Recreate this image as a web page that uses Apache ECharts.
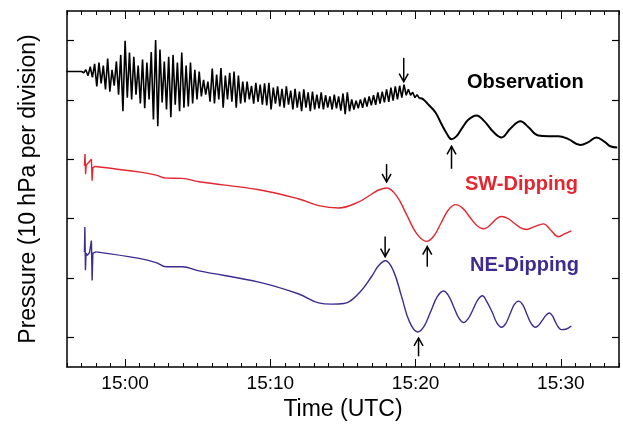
<!DOCTYPE html>
<html><head><meta charset="utf-8">
<script src="https://cdn.jsdelivr.net/npm/echarts@6/dist/echarts.min.js"></script>
<style>html,body{margin:0;padding:0;background:#fff}#c{width:623px;height:426px}</style>
</head><body><div id="c"></div>
<script>
const FONT = '"Liberation Sans", Arial, Helvetica, sans-serif';
// x in minutes after 15:00 UTC; y in hPa (10 hPa per division)
const xTickLabels = {0: '15:00', 10: '15:10', 20: '15:20', 30: '15:30'};
const xMajorTicks = [0, 10, 20, 30];
const yTicks = [5, 15, 25, 35, 45, 55];

const obsFlat = [[-4.05, 49.8], [-3.0, 49.8]];
const obsNoiseStart = -3.0;
const obsNoiseStep = 0.15;
const obsNoise = [
  49.8, 49.6, 50.1, 49.1, 50.6, 48.8, 51.1, 47.3, 51.3, 47.8,
  50.8, 46.8, 52.0, 46.4, 50.1, 47.4, 51.5, 45.9, 52.6, 43.1,
  55.0, 45.4, 53.0, 45.1, 52.3, 45.9, 50.8, 44.4, 51.8, 43.6,
  51.3, 45.1, 53.1, 41.7, 55.1, 40.6, 53.5, 44.6, 51.5, 43.4,
  52.3, 42.1, 52.6, 44.2, 51.3, 43.1, 53.0, 43.7, 50.8, 43.9,
  51.3, 44.4, 50.1, 45.1, 49.8, 45.6, 48.4, 45.9, 48.1, 44.7,
  50.3, 44.4, 49.3, 45.1, 50.4, 43.7, 49.1, 45.1, 49.6, 44.7,
  49.8, 43.7, 49.1, 44.4, 48.1, 44.6, 48.1, 45.1, 47.4, 44.4,
  47.9, 44.7, 47.6, 44.2, 47.8, 44.1, 47.9, 43.4, 47.1, 44.4,
  47.3, 43.9, 46.9, 43.7, 47.3, 44.2, 46.6, 43.4, 46.9, 43.7,
  46.4, 43.1, 46.8, 43.7, 46.3, 43.1, 46.4, 43.4, 45.9, 43.6,
  46.3, 43.4, 45.8, 43.7, 45.6, 43.4, 45.9, 43.6, 45.6, 43.2,
  46.1, 42.6, 46.3, 43.1, 45.1, 43.4, 44.9, 43.6, 45.1, 43.7,
  45.4, 43.9, 45.6, 44.1, 45.8, 44.2, 46.3, 44.4, 46.4, 44.6,
  46.8, 44.7, 47.1, 44.9, 47.3, 45.1, 47.4, 45.4, 47.6, 45.8,
  46.8, 45.8, 46.3, 45.4, 45.9, 45.3
];
const obsTail = [
  [20.25, 45.3], [20.34, 45.3], [20.89, 44.2], [21.37, 42.9], [21.79, 40.9], [22.13, 39.4],
  [22.47, 38.4], [22.82, 38.9], [23.23, 40.4], [23.64, 41.7], [24.19, 42.4],
  [24.74, 41.4], [25.36, 39.6], [25.91, 38.7], [26.53, 40.2], [27.22, 41.4],
  [27.77, 40.4], [28.45, 39.0], [29.14, 38.9], [29.83, 38.9], [30.52, 38.4],
  [31.34, 37.4], [31.89, 37.9], [32.44, 38.7], [32.99, 38.0], [33.40, 37.2], [33.88, 37.0]
];

const swSpikes = [
  [-2.80, 33.9], [-2.76, 35.9], [-2.72, 32.5], [-2.68, 34.0], [-2.55, 33.7],
  [-2.32, 35.0], [-2.27, 31.4], [-2.22, 33.6], [-2.06, 33.8]
];
const swWave = [
  [-2.06, 33.8], [1.17, 32.8], [2.13, 32.35], [2.82, 31.84], [3.92, 31.79], [5.09, 31.22],
  [9.21, 29.88], [11.96, 28.32], [13.33, 27.2], [14.71, 26.81], [16.08, 27.82],
  [16.98, 29.16], [17.46, 29.83], [18.01, 30.17], [18.69, 28.84], [19.38, 25.67],
  [20.07, 22.48], [20.76, 21.17], [21.25, 22.07], [21.75, 24.27], [22.25, 26.46],
  [22.75, 27.37], [23.23, 26.78], [23.71, 25.33], [24.19, 23.89], [24.67, 23.3],
  [24.98, 23.6], [25.29, 24.33], [25.6, 25.06], [25.91, 25.36], [26.34, 25.04],
  [26.77, 24.27], [27.2, 23.5], [27.63, 23.18], [28.18, 23.66], [28.8, 24.13],
  [29.31, 23.04], [29.83, 21.96], [30.27, 22.46], [30.72, 22.96]
];

const neSpikes = [
  [-2.80, 19.4], [-2.77, 23.6], [-2.73, 16.3], [-2.69, 19.2], [-2.60, 18.8],
  [-2.45, 19.3], [-2.32, 21.3], [-2.27, 14.6], [-2.22, 19.2], [-1.99, 19.4]
];
const neWave = [
  [-1.99, 19.4], [0.96, 18.3], [2.13, 17.6], [2.82, 16.9], [3.92, 16.9], [5.09, 16.2],
  [9.21, 14.3], [11.96, 12.3], [13.33, 10.8], [14.2, 10.6], [15.05, 10.7], [16.08, 12.4],
  [16.98, 15.3], [17.46, 17.1], [17.92, 17.9], [18.47, 16.2], [19.03, 11.9], [19.58, 7.6],
  [20.14, 5.9], [20.59, 6.9], [21.03, 9.3], [21.48, 11.8], [21.92, 12.8], [22.27, 12.0],
  [22.61, 10.2], [22.96, 8.3], [23.30, 7.5], [23.63, 8.2], [23.95, 9.7], [24.28, 11.3],
  [24.60, 12.0], [24.88, 11.1], [25.26, 9.3], [25.58, 7.5], [25.91, 6.7], [26.20, 7.3],
  [26.49, 8.9], [26.79, 10.5], [27.08, 11.1], [27.37, 10.5], [27.66, 8.9], [27.96, 7.3],
  [28.25, 6.7], [28.49, 7.1], [28.73, 7.9], [28.97, 8.7], [29.21, 9.1], [29.42, 8.6],
  [29.62, 7.6], [29.83, 6.7], [30.03, 6.3], [30.38, 6.4], [30.72, 6.9]
];

// arrows: [time, tail value, tip value]
const arrows = [
  [19.18, 52.1, 48.1],
  [22.47, 33.4, 37.2],
  [18.0, 34.2, 31.2],
  [20.8, 16.9, 20.3],
  [17.9, 22.0, 18.6],
  [20.2, 1.8, 4.9]
];

const labels = ['Observation', 'SW-Dipping', 'NE-Dipping'];
const RED = '#e3262f';
const BLUE = '#3f2a8e';

const obsRough = obsFlat.concat(obsNoise.map((v, i) => [obsNoiseStart + i * obsNoiseStep, v]));

const chart = echarts.init(document.getElementById('c'));
const axisLineStyle = {color: '#000', width: 1.5};
const baseX = {type: 'value', min: -4, max: 34, splitLine: {show: false}};
const baseY = {type: 'value', min: 0, max: 60, splitLine: {show: false}};
chart.setOption({
  animation: false,
  grid: {left: 67, right: 4, top: 11, bottom: 57},
  xAxis: [
    Object.assign({}, baseX, {
      position: 'bottom', interval: 1,
      axisLine: {show: true, onZero: false, lineStyle: axisLineStyle},
      axisTick: {inside: true, length: 4, lineStyle: {color: '#000', width: 1}},
      axisLabel: {formatter: v => xTickLabels[v] || '', fontSize: 19, color: '#000', fontFamily: FONT, margin: 7},
      name: 'Time (UTC)', nameLocation: 'middle', nameGap: 31,
      nameTextStyle: {fontSize: 23, color: '#000', fontFamily: FONT}
    }),
    Object.assign({}, baseX, {
      position: 'bottom',
      axisLine: {show: false, onZero: false},
      axisTick: {inside: true, length: 8, customValues: xMajorTicks, lineStyle: {color: '#000', width: 1}},
      axisLabel: {show: false}
    }),
    Object.assign({}, baseX, {
      position: 'top', interval: 1,
      axisLine: {show: true, onZero: false, lineStyle: axisLineStyle},
      axisTick: {inside: true, length: 4, lineStyle: {color: '#000', width: 1}},
      axisLabel: {show: false}
    }),
    Object.assign({}, baseX, {
      position: 'top',
      axisLine: {show: false, onZero: false},
      axisTick: {inside: true, length: 8, customValues: xMajorTicks, lineStyle: {color: '#000', width: 1}},
      axisLabel: {show: false}
    })
  ],
  yAxis: [
    Object.assign({}, baseY, {
      position: 'left',
      axisLine: {show: true, onZero: false, lineStyle: axisLineStyle},
      axisTick: {inside: true, length: 7, customValues: yTicks, lineStyle: {color: '#000', width: 1.2}},
      axisLabel: {show: false},
      name: 'Pressure (10 hPa per division)', nameLocation: 'middle', nameGap: 27, nameRotate: 90,
      nameTextStyle: {fontSize: 23, color: '#000', fontFamily: FONT}
    }),
    Object.assign({}, baseY, {
      position: 'right',
      axisLine: {show: true, onZero: false, lineStyle: axisLineStyle},
      axisTick: {inside: true, length: 7, customValues: yTicks, lineStyle: {color: '#000', width: 1.2}},
      axisLabel: {show: false}
    })
  ],
  series: [
    {type: 'line', data: obsRough, showSymbol: false, lineStyle: {color: '#000', width: 1.6}, itemStyle: {color: '#000'}},
    {type: 'line', data: obsTail, smooth: 0.4, showSymbol: false, lineStyle: {color: '#000', width: 2}, itemStyle: {color: '#000'}},
    {type: 'line', data: swSpikes, showSymbol: false, lineStyle: {color: RED, width: 1.4}, itemStyle: {color: RED}},
    {type: 'line', data: swWave, smooth: 0.4, showSymbol: false, lineStyle: {color: RED, width: 1.4}, itemStyle: {color: RED}},
    {type: 'line', data: neSpikes, showSymbol: false, lineStyle: {color: BLUE, width: 1.4}, itemStyle: {color: BLUE}},
    {type: 'line', data: neWave, smooth: 0.4, showSymbol: false, lineStyle: {color: BLUE, width: 1.4}, itemStyle: {color: BLUE}},
    {
      type: 'custom', data: arrows, encode: {x: 0, y: 1}, silent: true,
      renderItem: (params, api) => {
        const p0 = api.coord([api.value(0), api.value(1)]);
        const p1 = api.coord([api.value(0), api.value(2)]);
        const dir = p1[1] > p0[1] ? 1 : -1;
        const hw = 4.5, hl = 8;
        return {type: 'group', children: [
          {type: 'line', shape: {x1: p0[0], y1: p0[1], x2: p1[0], y2: p1[1]}, style: {stroke: '#000', lineWidth: 1.5}},
          {type: 'polyline', shape: {points: [[p1[0] - hw, p1[1] - dir * hl], [p1[0], p1[1]], [p1[0] + hw, p1[1] - dir * hl]]}, style: {stroke: '#000', lineWidth: 1.5, fill: null}}
        ]};
      }
    }
  ],
  graphic: [
    {type: 'text', left: 467, top: 72, style: {text: labels[0], fill: '#000', font: 'bold 20px ' + FONT}},
    {type: 'text', left: 465, top: 174, style: {text: labels[1], fill: RED, font: 'bold 20px ' + FONT}},
    {type: 'text', left: 470, top: 255, style: {text: labels[2], fill: BLUE, font: 'bold 20px ' + FONT}}
  ]
});
</script>
</body></html>
